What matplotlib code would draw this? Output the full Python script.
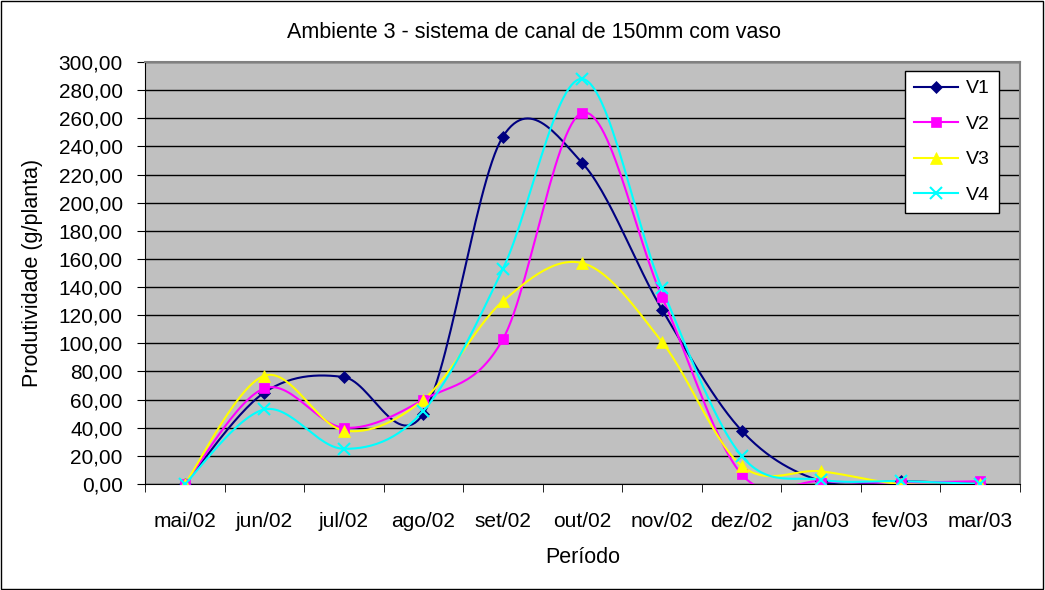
import numpy as np
import matplotlib
matplotlib.use('Agg')
import matplotlib.pyplot as plt
from matplotlib.patches import Rectangle

plt.rcParams['font.family'] = ['Liberation Sans', 'DejaVu Sans']

meses = ['mai/02', 'jun/02', 'jul/02', 'ago/02', 'set/02', 'out/02',
         'nov/02', 'dez/02', 'jan/03', 'fev/03', 'mar/03']
v1 = [0, 65, 76, 50, 247, 228, 124, 38, 2, 2, 0]
v2 = [0, 68, 40, 60, 103, 264, 133, 7, 2, 1, 2]
v3 = [0, 77, 38, 60, 130, 157, 101, 13, 9, 0, 0]
v4 = [0, 53, 25, 52, 153, 288, 139, 20, 3, 2, 0]

series = [('V1', v1, '#000080', 'D', 6),
          ('V2', v2, '#FF00FF', 's', 7),
          ('V3', v3, '#FFFF00', '^', 8),
          ('V4', v4, '#00FFFF', 'x', 8)]


def smooth(y, n=30):
    # bezier smoothing like the spreadsheet "smoothed line"
    y = np.asarray(y, float)
    x = np.arange(len(y), dtype=float)
    xs, ys = [], []
    for i in range(len(y) - 1):
        p0 = (x[max(i - 1, 0)], y[max(i - 1, 0)])
        p1 = (x[i], y[i])
        p2 = (x[i + 1], y[i + 1])
        p3 = (x[min(i + 2, len(y) - 1)], y[min(i + 2, len(y) - 1)])
        c1 = (p1[0] + (p2[0] - p0[0]) / 6, p1[1] + (p2[1] - p0[1]) / 6)
        c2 = (p2[0] - (p3[0] - p1[0]) / 6, p2[1] - (p3[1] - p1[1]) / 6)
        t = np.linspace(0, 1, n)
        for k in range(2):
            pts = [p1[k], c1[k], c2[k], p2[k]]
            b = ((1 - t) ** 3 * pts[0] + 3 * (1 - t) ** 2 * t * pts[1]
                 + 3 * (1 - t) * t ** 2 * pts[2] + t ** 3 * pts[3])
            (xs if k == 0 else ys).append(b)
    return np.concatenate(xs), np.concatenate(ys)


fig = plt.figure(figsize=(10.45, 5.9), dpi=100)
fig.patches.append(Rectangle((0.001, 0.002), 0.997, 0.996, transform=fig.transFigure,
                             fill=False, edgecolor='black', linewidth=1))
ax = fig.add_axes([0.1388, 0.1797, 0.8372, 0.7152])
ax.set_facecolor('#C0C0C0')

x = np.arange(len(meses))
handles = []
for name, vals, color, mk, ms in series:
    sx, sy = smooth(vals)
    ax.plot(sx, sy, color=color, linewidth=1.5, zorder=3)
    mew = 1.5 if mk == 'x' else 0.5
    ax.plot(x, vals, linestyle='none', marker=mk, markersize=ms, color=color,
            markeredgecolor=color, markeredgewidth=mew, zorder=4)
    h, = ax.plot([], [], color=color, linewidth=1.5, marker=mk, markersize=ms,
                 markeredgecolor=color, markeredgewidth=mew)
    h.set_label(name)
    handles.append(h)

ax.set_xlim(-0.5, len(meses) - 0.5)
ax.set_ylim(0, 300)
ax.set_yticks(np.arange(0, 301, 20))
ax.set_yticklabels(['%d,00' % v for v in range(0, 301, 20)], fontsize=15)
ax.set_xticks(x)
ax.set_xticklabels(meses, fontsize=15)
ax.set_xticks(np.arange(-0.5, len(meses), 1), minor=True)
ax.tick_params(axis='x', which='major', length=0, pad=20)
ax.tick_params(axis='x', which='minor', length=6, direction='out')
ax.tick_params(axis='y', length=6, direction='out', pad=10)
ax.yaxis.grid(True, color='black', linewidth=1)
ax.set_axisbelow(True)
for side in ['top', 'right']:
    ax.spines[side].set_color('#808080')
    ax.spines[side].set_linewidth(1.5)
ax.spines['left'].set_color('black')
ax.spines['bottom'].set_color('black')

fig.text(534 / 1045, 1 - 33 / 590, 'Ambiente 3 - sistema de canal de 150mm com vaso',
         fontsize=15.5, ha='center', va='center')
ax.set_xlabel('Período', fontsize=15.5, labelpad=12)
ax.set_ylabel('Produtividade (g/planta)', fontsize=15.5, labelpad=11)

leg = ax.legend(handles=handles, loc='upper right',
                bbox_to_anchor=(999 / 1045, 1 - 71 / 590), bbox_transform=fig.transFigure,
                borderaxespad=0, fontsize=14, frameon=True, fancybox=False,
                edgecolor='black', framealpha=1, handlelength=2.3,
                labelspacing=0.92, borderpad=0.45, handletextpad=0.4)
leg.get_frame().set_linewidth(1)

fig.savefig('out.png', dpi=100)
